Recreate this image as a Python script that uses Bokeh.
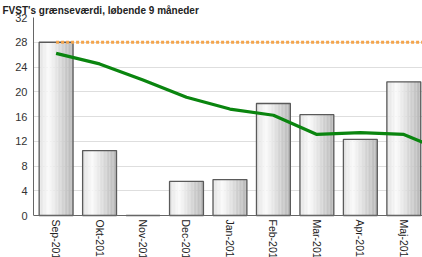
import math
from bokeh.plotting import figure
from bokeh.models import ColumnDataSource, FixedTicker, Range1d, Span
from bokeh.core.properties import value
from bokeh.embed import file_html
from bokeh.resources import INLINE

# ---- data ----
months = ["Sep-2010", "Okt-2010", "Nov-2010", "Dec-2010", "Jan-2011",
          "Feb-2011", "Mar-2011", "Apr-2011", "Maj-2011", "Jun-2011"]
bar_values = [28.0, 10.5, 0.0, 5.5, 5.8, 18.1, 16.3, 12.3, 21.6]
rolling_avg = [26.2, 24.5, 21.9, 19.1, 17.2, 16.2, 13.1, 13.4, 13.1, 10.2]
limit_value = 28.0
y_ticks = [0, 4, 8, 12, 16, 20, 24, 28, 32]
title_text = "FVST's grænseværdi, løbende 9 måneder"

# ---- styling ----
FONT = "Liberation Sans"
BAR_W = 0.78
N_SLICES = 24
W, H = 422, 257
LEFT, TOP = 33, 17
PX_PER_UNIT = 198 / 32.0


def grad_color(t):
    stops = [(0.0, 224), (0.28, 250), (1.0, 180)]
    c = stops[-1][1]
    for (t0, c0), (t1, c1) in zip(stops[:-1], stops[1:]):
        if t <= t1:
            c = c0 + (c1 - c0) * (t - t0) / (t1 - t0)
            break
    c = int(round(c))
    return "#%02x%02x%02x" % (c, c, c)


x_idx = list(range(len(months)))
y_bottom = -(H - TOP - 198) / PX_PER_UNIT   # frame continues below zero for labels

p = figure(width=W, height=H, output_backend="svg", toolbar_location=None,
           x_range=Range1d(-0.52, 8.43), y_range=Range1d(y_bottom, 32),
           x_axis_location=None, title=title_text,
           min_border_left=LEFT, min_border_right=0, min_border_top=TOP,
           min_border_bottom=0)
p.outline_line_color = None
p.background_fill_color = "white"
p.border_fill_color = "white"

# title
p.title.text_font = FONT
p.title.text_font_size = "10px"
p.title.text_font_style = "bold"
p.title.text_color = "#222222"
p.title.align = "left"
p.title.offset = -31
p.title.standoff = 0
p.title.vertical_align = "top"

# grid
p.xgrid.grid_line_color = None
p.ygrid.ticker = FixedTicker(ticks=y_ticks)
p.ygrid.grid_line_color = "#dedede"

# gradient bars built from slices
sx, stop, sw, sc = [], [], [], []
for i, v in enumerate(bar_values):
    for k in range(N_SLICES):
        t = (k + 0.5) / N_SLICES
        sx.append(i - BAR_W / 2 + t * BAR_W)
        stop.append(v)
        sw.append(BAR_W / N_SLICES * 1.05)
        sc.append(grad_color(t))
p.vbar(x=sx, top=stop, bottom=0, width=sw, fill_color=sc, line_color=None)
bsrc = ColumnDataSource(dict(x=x_idx[:len(bar_values)], top=bar_values))
p.vbar(x="x", top="top", bottom=0, width=BAR_W, source=bsrc, fill_color=None,
       line_color="#5a5a5a", line_width=1.3)

# x axis line at zero
p.add_layout(Span(location=0, dimension="width", line_color="#666666",
                  line_width=1))

# limit line (dotted orange)
p.line([x_idx[0], x_idx[-1]], [limit_value, limit_value], line_color="#f4a54c",
       line_width=3, line_dash="3 2")

# rolling average (green)
p.line(x_idx, rolling_avg, line_color="#0a850f", line_width=3.2)

# y axis
p.yaxis.ticker = FixedTicker(ticks=y_ticks)
p.yaxis.bounds = (0, 32)
p.yaxis.major_tick_in = 0
p.yaxis.major_tick_out = 0
p.yaxis.minor_tick_line_color = None
p.yaxis.major_label_standoff = 6
p.yaxis.major_label_text_font = FONT
p.yaxis.major_label_text_font_size = "11px"
p.yaxis.major_label_text_color = "#333333"
p.yaxis.axis_line_color = "#666666"

# rotated category labels (reading downward)
lsrc = ColumnDataSource(dict(x=x_idx, y=[0] * len(months), t=months))
p.text(x="x", y="y", text="t", source=lsrc, angle=-math.pi / 2,
       y_offset=4, text_align="left", text_baseline="middle",
       text_font=value(FONT), text_font_size="10.5px", text_color="#222222")

open("out.html", "w").write(file_html(p, INLINE))
